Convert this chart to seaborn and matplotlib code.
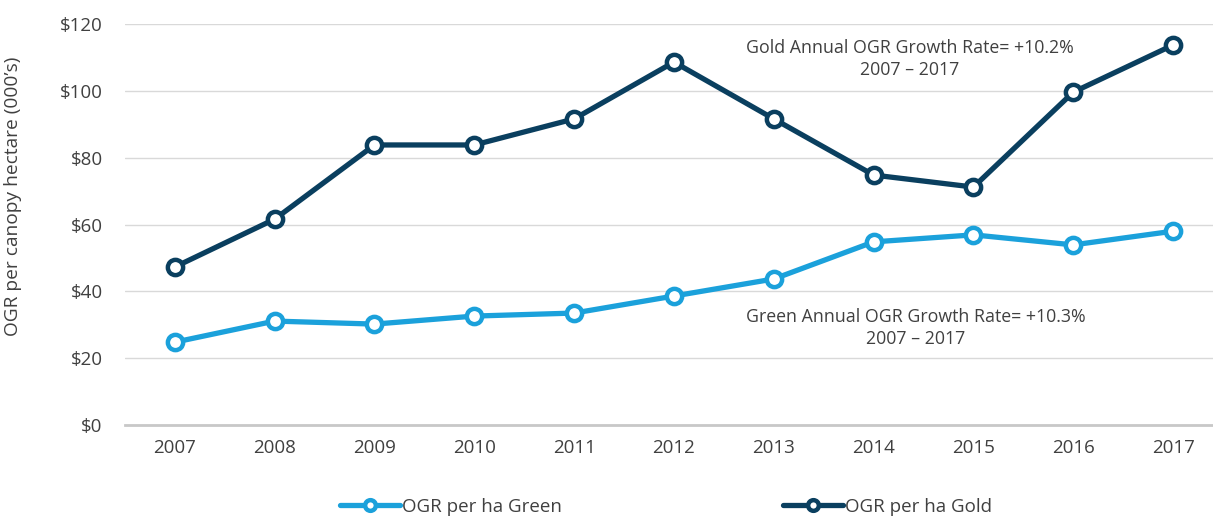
import pandas as pd
import matplotlib.pyplot as plt
import seaborn as sns

# Datos (miles de $ por hectárea de copa)
years = [2007, 2008, 2009, 2010, 2011, 2012, 2013, 2014, 2015, 2016, 2017]
green = [24.8, 31.1, 30.2, 32.6, 33.5, 38.6, 43.7, 54.8, 56.9, 53.9, 58.0]
gold = [47.3, 61.6, 83.8, 83.8, 91.6, 108.6, 91.6, 74.8, 71.2, 99.6, 113.7]
series_names = ['OGR per ha Green', 'OGR per ha Gold']
y_ticks = [0, 20, 40, 60, 80, 100, 120]

gold_note = 'Gold Annual OGR Growth Rate= +10.2%\n2007 \u2013 2017'
green_note = 'Green Annual OGR Growth Rate= +10.3%\n2007 \u2013 2017'

col_green = '#1BA1DB'
col_gold = '#0A3F5F'
txt = '#404040'

sns.set_style('white')
plt.rcParams['font.family'] = ['Open Sans', 'DejaVu Sans']

fig = plt.figure(figsize=(12.13, 5.18), dpi=100)
ax = fig.add_axes([0.103, 0.1795, 0.897, 0.7742])

df = pd.DataFrame({'year': years, series_names[0]: green, series_names[1]: gold})
df_long = df.melt(id_vars='year', var_name='serie', value_name='ogr')

sns.lineplot(
    data=df_long, x='year', y='ogr', hue='serie',
    palette={series_names[0]: col_green, series_names[1]: col_gold},
    marker='o', markersize=11, markerfacecolor='white', markeredgewidth=3.2,
    linewidth=3.8, ax=ax, legend=True,
)
# el marcador toma el color de la línea
for line in ax.lines:
    line.set_markeredgecolor(line.get_color())

ax.set_xlim(2006.5, 2017.4)
ax.set_ylim(0, 120)
ax.set_yticks(y_ticks)
ax.set_yticklabels([r'\$%d' % v for v in y_ticks])
ax.set_xticks(years)
ax.set_xticklabels([str(y) for y in years])
ax.set_xticks([y + 0.5 for y in [2006] + years[:-1]], minor=True)

ax.grid(axis='y', color='#D9D9D9', linewidth=1)
ax.set_axisbelow(True)
for s in ['top', 'right', 'left']:
    ax.spines[s].set_visible(False)
ax.spines['bottom'].set_color('#C8C8C8')
ax.spines['bottom'].set_linewidth(2)

ax.tick_params(axis='y', length=0, pad=16, labelsize=13.5, labelcolor=txt)
ax.tick_params(axis='x', which='major', length=0, pad=10, labelsize=13.5, labelcolor=txt)
ax.tick_params(axis='x', which='minor', length=6, width=1.5, color='#C8C8C8', direction='out')

ax.set_xlabel('')
ax.set_ylabel("OGR per canopy hectare (000\u2019s)", fontsize=13.8, color=txt)
ax.yaxis.set_label_coords(-0.095, 0.57)

ax.text(2014.36, 109.5, gold_note, ha='center', va='center', fontsize=12.8,
        color=txt, linespacing=1.25)
ax.text(2014.42, 29.0, green_note, ha='center', va='center', fontsize=12.8,
        color=txt, linespacing=1.25)

handles, labels = ax.get_legend_handles_labels()
ax.legend_.remove()
fig.legend(handles, labels, loc='center', bbox_to_anchor=(0.549, 0.022), ncol=2,
           frameon=False, fontsize=13.5, handlelength=3.2, handletextpad=0.1,
           columnspacing=11.8, labelcolor=txt, markerscale=0.7)

fig.savefig('out.png', dpi=100)
